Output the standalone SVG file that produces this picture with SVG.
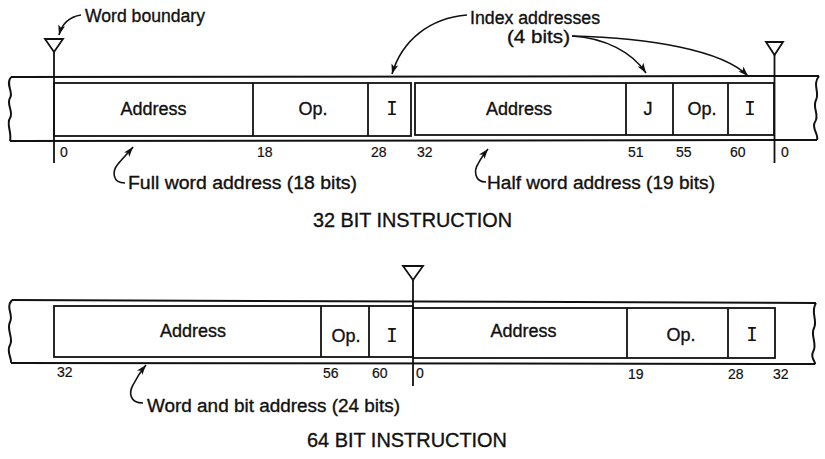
<svg xmlns="http://www.w3.org/2000/svg" width="825" height="459" viewBox="0 0 825 459">
<style>
.ln{fill:none;stroke:#111;stroke-width:2;stroke-linejoin:round}
.bx{fill:none;stroke:#111;stroke-width:1.8}
.tri{fill:#fff;stroke:#111;stroke-width:1.8;stroke-linejoin:miter}
.arr{fill:none;stroke:#111;stroke-width:1.6}
.t{font-family:"Liberation Sans",Arial,sans-serif;fill:#111;stroke:#111;stroke-width:0.35}
.fld{font-size:18px;text-anchor:middle}
.ii{font-family:"DejaVu Sans Mono","Liberation Mono",monospace;font-size:19px;fill:#111;text-anchor:middle}
.num{font-size:14px;stroke-width:0.2}
.ann{font-size:18px}
.ttl{font-size:20px}
</style>
<defs>
<marker id="ah" markerUnits="userSpaceOnUse" markerWidth="11" markerHeight="8" refX="10" refY="3.5" orient="auto">
<path d="M0,0 L10,3.5 L0,7 L2.5,3.5 z" fill="#111"/>
</marker>
</defs>

<g id="strip32">
<path class="ln" d="M11,77 C5,85 14,92 10,98 C6,104 14,112 10,118 C6,124 12,132 10,141"/>
<path class="ln" d="M819,76 C812,85 820,92 816,100 C812,108 820,115 815,122 C811,128 819,134 817,140"/>
<path class="ln" d="M11,77 L819,76"/>
<path class="ln" d="M10,141 L817,140"/>
</g>
<g id="word32a">
<rect class="bx" x="54" y="83" width="357" height="53"/>
<line class="bx" x1="253" y1="83" x2="253" y2="136"/>
<line class="bx" x1="368" y1="83" x2="368" y2="136"/>
<text class="t fld" x="153.5" y="115">Address</text>
<text class="t fld" x="313" y="115">Op.</text>
<text class="ii" x="392" y="115">I</text>
</g>
<g id="word32b">
<rect class="bx" x="415" y="83" width="359" height="52"/>
<line class="bx" x1="626" y1="83" x2="626" y2="135"/>
<line class="bx" x1="673" y1="83" x2="673" y2="135"/>
<line class="bx" x1="728" y1="83" x2="728" y2="135"/>
<text class="t fld" x="519" y="115">Address</text>
<text class="t fld" x="648" y="115">J</text>
<text class="t fld" x="702" y="115">Op.</text>
<text class="ii" x="750" y="115">I</text>
</g>
<g id="boundary32L">
<path class="tri" d="M45,39 L63,39 L54,52 z"/>
<line class="bx" x1="54" y1="52" x2="54" y2="163"/>
</g>
<g id="boundary32R">
<path class="tri" d="M766,42 L783,42 L774.5,55 z"/>
<line class="bx" x1="774.5" y1="55" x2="774.5" y2="163"/>
</g>
<g id="bits32" class="t num">
<text x="60" y="157">0</text>
<text x="257" y="157">18</text>
<text x="371" y="157">28</text>
<text x="417" y="157">32</text>
<text x="628" y="157">51</text>
<text x="676" y="157">55</text>
<text x="730" y="157">60</text>
<text x="781" y="157">0</text>
</g>
<g id="labels32" class="t ann">
<text x="85" y="22" textLength="120" lengthAdjust="spacingAndGlyphs">Word boundary</text>
<text x="470" y="24" textLength="130" lengthAdjust="spacingAndGlyphs">Index addresses</text>
<text x="507" y="43" textLength="63" lengthAdjust="spacingAndGlyphs">(4 bits)</text>
<text x="128" y="189" textLength="229" lengthAdjust="spacingAndGlyphs">Full word address (18 bits)</text>
<text x="487" y="189" textLength="228" lengthAdjust="spacingAndGlyphs">Half word address (19 bits)</text>
<text class="ttl" x="313" y="227" textLength="199" lengthAdjust="spacingAndGlyphs">32 BIT INSTRUCTION</text>
</g>

<g id="strip64">
<path class="ln" d="M12,300 C5,308 14,315 10,322 C6,330 14,338 10,345 C6,352 12,358 11,363"/>
<path class="ln" d="M816,303 C810,312 818,320 814,328 C810,336 818,344 813,352 C810,358 816,362 815,364"/>
<path class="ln" d="M12,300 L816,303"/>
<path class="ln" d="M11,363 L815,364"/>
</g>
<g id="word64a">
<rect class="bx" x="54" y="306" width="359" height="51"/>
<line class="bx" x1="321" y1="306" x2="321" y2="357"/>
<line class="bx" x1="369" y1="306" x2="369" y2="357"/>
<text class="t fld" x="193" y="337">Address</text>
<text class="t fld" x="346" y="342">Op.</text>
<text class="ii" x="392" y="342">I</text>
</g>
<g id="word64b">
<rect class="bx" x="413" y="308" width="362" height="50"/>
<line class="bx" x1="627" y1="308" x2="627" y2="358"/>
<line class="bx" x1="728" y1="308" x2="728" y2="358"/>
<text class="t fld" x="523.5" y="337">Address</text>
<text class="t fld" x="681" y="341">Op.</text>
<text class="ii" x="752" y="341">I</text>
</g>
<g id="boundary64">
<path class="tri" d="M403,266 L423,266 L413,280 z"/>
<line class="bx" x1="413" y1="280" x2="413" y2="386"/>
</g>
<g id="bits64" class="t num">
<text x="57" y="377">32</text>
<text x="323" y="378">56</text>
<text x="372" y="378">60</text>
<text x="416" y="378">0</text>
<text x="628" y="379">19</text>
<text x="728" y="379">28</text>
<text x="773" y="379">32</text>
</g>
<g id="labels64" class="t ann">
<text x="147" y="412" textLength="253" lengthAdjust="spacingAndGlyphs">Word and bit address (24 bits)</text>
<text class="ttl" x="307" y="447" textLength="200" lengthAdjust="spacingAndGlyphs">64 BIT INSTRUCTION</text>
</g>

<g id="connectors">
<path class="arr" marker-end="url(#ah)" d="M81,15 C68,17 62,24 59,35"/>
<path class="arr" marker-end="url(#ah)" d="M467,15 C430,18 402,40 392,74"/>
<path class="arr" marker-end="url(#ah)" d="M572,36 C605,38 632,52 646,73"/>
<path class="arr" marker-end="url(#ah)" d="M572,36 C650,38 722,50 748,76"/>
<path class="arr" marker-end="url(#ah)" d="M125,183 C112,183 112,171 118,164 C123,158 128,153 133,147"/>
<path class="arr" marker-end="url(#ah)" d="M486,182 C474,182 474,170 478,164 C481,158 484,154 488,149"/>
<path class="arr" marker-end="url(#ah)" d="M143,403 C129,403 129,392 133,385 C137,377 141,371 146,365"/>
</g>
</svg>
